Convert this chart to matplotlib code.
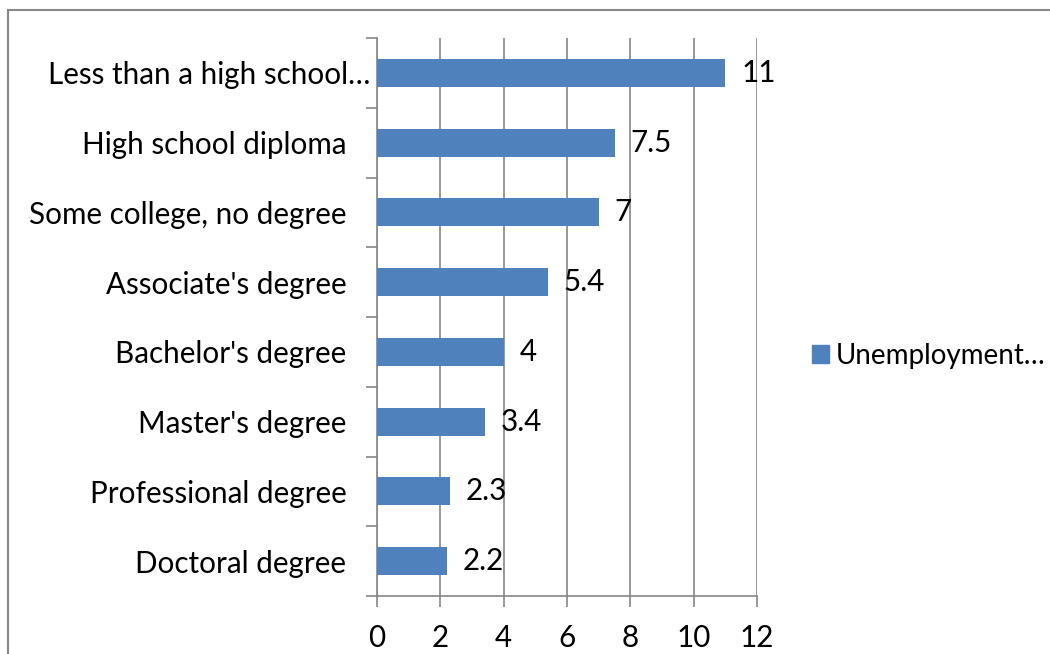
import matplotlib.pyplot as plt
from matplotlib.patches import Rectangle, Patch
from matplotlib.transforms import ScaledTranslation

plt.rcParams['font.family'] = ['Lato', 'DejaVu Sans']

categories = ['Less than a high school…', 'High school diploma', 'Some college, no degree',
              "Associate's degree", "Bachelor's degree", "Master's degree",
              'Professional degree', 'Doctoral degree']
rates = [11, 7.5, 7, 5.4, 4, 3.4, 2.3, 2.2]
rate_labels = ['11', '7.5', '7', '5.4', '4', '3.4', '2.3', '2.2']
series_name = 'Unemployment…'

bar_color = '#4F81BD'
grid_color = '#868686'
fsize = 21.3

fig = plt.figure(figsize=(10.5, 6.54), dpi=100)
ax = fig.add_axes([377 / 1050, 1 - 596 / 654, 380 / 1050, 558 / 654])

# outer chart border
fig.patches.append(Rectangle((8 / 1050, -0.1), 1.2, 1 - 10 / 654 + 0.1,
                             transform=fig.transFigure, fill=False,
                             edgecolor='#888888', linewidth=1.5))

pos = list(range(len(categories)))
ax.barh(pos, rates, height=0.4, color=bar_color, zorder=3)
for p, v, lab in zip(pos, rates, rate_labels):
    ax.text(v + 0.5, p, lab, va='center', ha='left', fontsize=fsize, zorder=4)

ax.set_xlim(0, 12)
ax.set_ylim(len(categories) - 0.5, -0.5)
ax.set_xticks(range(0, 13, 2))
ax.set_yticks(pos)
ax.set_yticklabels(categories)
ax.tick_params(axis='y', length=0, pad=22, labelsize=fsize)
ax.tick_params(axis='x', length=8, width=1.2, color=grid_color, pad=12, labelsize=fsize)

# the truncated first label sits closer to the axis
first = ax.get_yticklabels()[0]
first.set_transform(first.get_transform() + ScaledTranslation(24 / 100, 0, fig.dpi_scale_trans))

# category boundary ticks on the y axis
ax.set_yticks([p - 0.5 for p in pos] + [len(categories) - 0.5], minor=True)
ax.tick_params(axis='y', which='minor', length=8, width=1.2, color=grid_color)

ax.grid(axis='x', color=grid_color, linewidth=1.2, zorder=0)
for s in ['top', 'right']:
    ax.spines[s].set_visible(False)
for s in ['left', 'bottom']:
    ax.spines[s].set_color(grid_color)
    ax.spines[s].set_linewidth(1.2)

fig.legend(handles=[Patch(color=bar_color, label=series_name)],
           loc='center left', bbox_to_anchor=(801 / 1050, 1 - 356 / 654),
           frameon=False, fontsize=20, handlelength=0.6, handleheight=0.6,
           handletextpad=0.25, borderaxespad=0)

fig.savefig('out.png', dpi=100)
